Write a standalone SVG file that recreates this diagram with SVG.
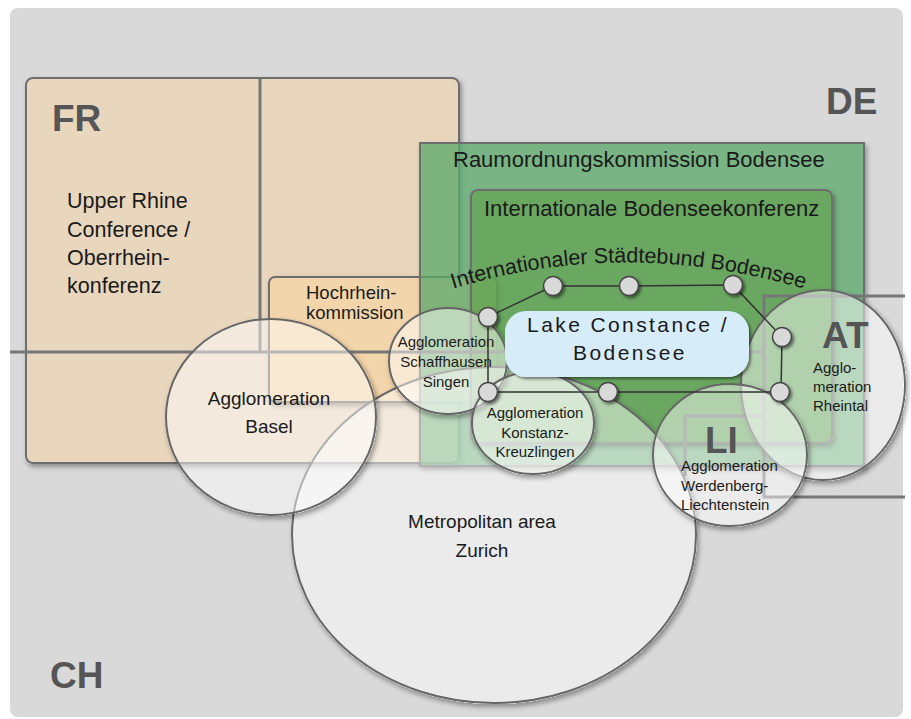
<svg xmlns="http://www.w3.org/2000/svg" width="911" height="719" viewBox="0 0 911 719">
<defs>
<filter id="sh" x="-10%" y="-10%" width="125%" height="125%">
<feComponentTransfer in="SourceAlpha" result="a"><feFuncA type="linear" slope="20"/></feComponentTransfer>
<feGaussianBlur in="a" stdDeviation="2.5" result="b"/>
<feOffset in="b" dx="2" dy="3" result="o"/>
<feComposite in="o" in2="a" operator="out" result="s"/>
<feFlood flood-color="#000" flood-opacity="0.35"/>
<feComposite in2="s" operator="in" result="sc"/>
<feMerge><feMergeNode in="sc"/><feMergeNode in="SourceGraphic"/></feMerge>
</filter>
<filter id="nsh" x="-50%" y="-50%" width="200%" height="200%">
<feDropShadow dx="2" dy="2" stdDeviation="1.5" flood-color="#000" flood-opacity="0.5"/>
</filter>
<path id="arc" d="M452,289 Q627,235 812,291"/>
</defs>
<style>
text{font-family:"Liberation Sans",Arial,Helvetica,sans-serif;fill:#1a1a1a}
.cty{font-size:37px;font-weight:bold;fill:#555}
.box{stroke:#6e6e6e;stroke-width:2}
.ell{fill:#fff;fill-opacity:0.48;stroke:#666;stroke-width:2}
.bl{fill:none;stroke:#777;stroke-width:3}
.big{font-size:22px}
.mid{font-size:19px}
.sm{font-size:15px}
.node{fill:#d9d9d9;stroke:#444;stroke-width:1.5}
.con{stroke:#333;stroke-width:1.5;fill:none}
</style>
<rect x="10" y="8" width="893" height="709" rx="8" fill="#d9d9d9"/>

<g id="upper-rhine">
<rect class="box" x="26" y="78" width="433" height="385" rx="7" fill="#e8d6bd" filter="url(#sh)"/>
<text x="67" y="208" font-size="21.5px">Upper Rhine</text>
<text x="67" y="237" font-size="21.5px">Conference /</text>
<text x="67" y="265" font-size="21.5px">Oberrhein-</text>
<text x="67" y="293" font-size="21.5px">konferenz</text>
</g>

<g id="hochrhein">
<rect class="box" x="269" y="277" width="228" height="125" rx="6" fill="#f3d5ab" filter="url(#sh)"/>
<text x="306" y="299" font-size="18.5px">Hochrhein-</text>
<text x="306" y="319" font-size="18.5px">kommission</text>
</g>

<g id="raumordnung">
<rect class="box" x="420" y="143" width="444" height="323" fill="#5aa86a" fill-opacity="0.75" filter="url(#sh)"/>
<text class="big" x="453" y="167">Raumordnungskommission Bodensee</text>
</g>

<g id="ibk">
<rect class="box" x="471" y="190" width="361" height="253" rx="7" fill="#5f9e47" fill-opacity="0.6" filter="url(#sh)"/>
<text class="big" x="484" y="216">Internationale Bodenseekonferenz</text>
</g>

<g id="borders">
<path class="bl" d="M10,352 H764"/>
<path class="bl" d="M260,79 V352"/>
<path class="bl" d="M905,296 H764 V497 H905"/>
<path class="bl" d="M764,416 H685 V476"/>
</g>

<g id="zurich">
<ellipse class="ell" cx="494" cy="535" rx="202" ry="168" filter="url(#sh)"/>
<text class="mid" x="482" y="528" text-anchor="middle">Metropolitan area</text>
<text class="mid" x="482" y="557" text-anchor="middle">Zurich</text>
</g>

<g id="basel">
<ellipse class="ell" cx="271" cy="417" rx="105" ry="98" filter="url(#sh)"/>
<text class="mid" x="269" y="405" text-anchor="middle">Agglomeration</text>
<text class="mid" x="269" y="433" text-anchor="middle">Basel</text>
</g>

<g id="schaffhausen">
<ellipse class="ell" cx="448" cy="361" rx="59" ry="53" filter="url(#sh)"/>
<text class="sm" x="446" y="347" text-anchor="middle">Agglomeration</text>
<text class="sm" x="446" y="367" text-anchor="middle">Schaffhausen</text>
<text class="sm" x="446" y="387" text-anchor="middle">Singen</text>
</g>

<g id="konstanz">
<ellipse class="ell" cx="533" cy="423" rx="61" ry="51" filter="url(#sh)"/>
<text class="sm" x="535" y="418" text-anchor="middle">Agglomeration</text>
<text class="sm" x="535" y="438" text-anchor="middle">Konstanz-</text>
<text class="sm" x="535" y="457" text-anchor="middle">Kreuzlingen</text>
</g>

<g id="rheintal">
<ellipse class="ell" cx="823" cy="385" rx="82" ry="95" filter="url(#sh)"/>
<text class="sm" x="813" y="373">Agglo-</text>
<text class="sm" x="813" y="392">meration</text>
<text class="sm" x="813" y="411">Rheintal</text>
</g>

<g id="werdenberg">
<ellipse class="ell" cx="730" cy="455" rx="77" ry="71" filter="url(#sh)"/>
<text class="sm" x="681" y="471">Agglomeration</text>
<text class="sm" x="681" y="491">Werdenberg-</text>
<text class="sm" x="681" y="510">Liechtenstein</text>
</g>

<g id="lake">
<rect x="505" y="311" width="244" height="66" rx="21" fill="#d6ecf8" filter="url(#nsh)"/>
<text x="628" y="332" font-size="21px" letter-spacing="2.4px" text-anchor="middle">Lake Constance /</text>
<text x="630" y="360" font-size="21px" letter-spacing="2.4px" text-anchor="middle">Bodensee</text>
</g>

<g id="staedtebund">
<text font-size="21.5px"><textPath href="#arc" startOffset="1">Internationaler Städtebund Bodensee</textPath></text>
</g>

<g id="connectors">
<path class="con" d="M488,317 L553,286 L629,286 L733,285 L782,337 L781,392 L608,392 L488,392 Z"/>
</g>

<g id="nodes">
<circle id="n1" class="node" cx="553" cy="286" r="9.5" filter="url(#nsh)"/>
<circle id="n2" class="node" cx="629" cy="286" r="9.5" filter="url(#nsh)"/>
<circle id="n3" class="node" cx="733" cy="285" r="9.5" filter="url(#nsh)"/>
<circle id="n4" class="node" cx="488" cy="317" r="9.5" filter="url(#nsh)"/>
<circle id="n5" class="node" cx="782" cy="337" r="9.5" filter="url(#nsh)"/>
<circle id="n6" class="node" cx="488" cy="392" r="9.5" filter="url(#nsh)"/>
<circle id="n7" class="node" cx="608" cy="392" r="9.5" filter="url(#nsh)"/>
<circle id="n8" class="node" cx="780" cy="392" r="9.5" filter="url(#nsh)"/>
</g>

<g id="countries">
<text class="cty" x="52" y="131">FR</text>
<text class="cty" x="826" y="114">DE</text>
<text class="cty" x="50" y="688">CH</text>
<text class="cty" x="822" y="348">AT</text>
<text class="cty" x="705" y="453">LI</text>
</g>
</svg>
